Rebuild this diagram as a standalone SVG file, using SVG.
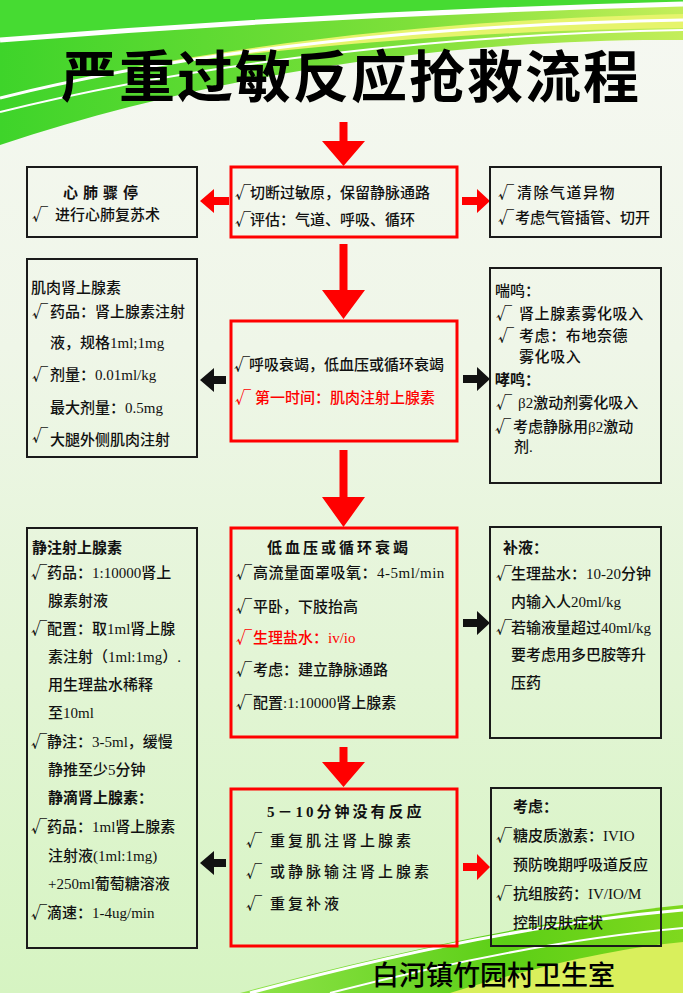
<svg xmlns="http://www.w3.org/2000/svg" width="683" height="993" viewBox="0 0 683 993">
<defs>
<linearGradient id="bg" x1="0" y1="0" x2="0" y2="1">
<stop offset="0" stop-color="#f6f8f2"/>
<stop offset="0.35" stop-color="#eff6e8"/>
<stop offset="1" stop-color="#d6f4c2"/>
</linearGradient>
<linearGradient id="topg" x1="0" y1="0" x2="1" y2="0">
<stop offset="0" stop-color="#3ed42a"/>
<stop offset="0.6" stop-color="#7ee03a"/>
<stop offset="1" stop-color="#c4ee5a"/>
</linearGradient>
<linearGradient id="botg" x1="0" y1="0" x2="1" y2="0">
<stop offset="0" stop-color="#8fe34a"/>
<stop offset="0.6" stop-color="#5ccf16"/>
<stop offset="1" stop-color="#7fd81e"/>
</linearGradient>
</defs>
<style>
.t{font-family:"Liberation Serif","Noto Sans CJK SC",serif;font-size:15px;fill:#111;font-weight:500}
.ck{font-family:"Noto Sans CJK SC","DejaVu Sans",sans-serif;font-size:16px}
.r{fill:#f00}
.b{font-weight:bold}
.bx{fill:none;stroke:#1a1a1a;stroke-width:2}
.rb{fill:none;stroke:#f00;stroke-width:3}
.ra{fill:#f00}
.ka{fill:#111}
.ttl{font-family:"Noto Sans CJK SC","Liberation Sans",sans-serif;font-weight:bold;fill:#000}
.foot{font-family:"Noto Sans CJK SC","Liberation Sans",sans-serif;font-weight:500;fill:#000;font-size:27px}
</style>
<rect x="0" y="0" width="683" height="993" fill="url(#bg)"/>
<g id="banner-top">
<path d="M0,0 H683 V40 C500,38 250,62 0,145 Z" fill="url(#topg)"/>
<path d="M0,0 H683 V6 C450,10 200,22 0,38 Z" fill="#46db32"/>
<path d="M0,40 C200,24 450,10 683,4" fill="none" stroke="#ffffff" stroke-width="5"/>
<path d="M120,70 C330,30 520,18 683,14 V28 C520,30 340,40 120,70 Z" fill="#e6f46c"/>
<path d="M0,98 C200,48 450,24 683,20" fill="none" stroke="#ffffff" stroke-width="3"/>
<path d="M0,112 C200,62 450,34 683,30" fill="none" stroke="#ffffff" stroke-width="2"/>
</g>
<g id="banner-bottom">
<path d="M240,993 C380,955 540,920 683,905 V993 Z" fill="url(#botg)"/>
<path d="M450,993 C540,965 620,948 683,942 V993 Z" fill="#d9ef5c"/>
<path d="M250,993 C390,955 545,922 683,910" fill="none" stroke="#ffffff" stroke-width="3"/>
<path d="M330,993 C450,962 570,938 683,928" fill="none" stroke="#ffffff" stroke-width="2"/>
</g>
<text class="ttl" x="351" y="97" font-size="56" letter-spacing="2" text-anchor="middle">严重过敏反应抢救流程</text>

<g id="connectors">
<path class="ra" d="M339.5,122 H347.5 V141 H365 L343.5,166 L322,141 H339.5 Z"/>
<path class="ra" d="M339.5,244 H347.5 V290 H365 L343.5,319 L322,290 H339.5 Z"/>
<path class="ra" d="M339.5,450 H347.5 V497 H365 L343.5,527 L322,497 H339.5 Z"/>
<path class="ra" d="M339.5,747 H347.5 V762 H365 L343.5,787 L322,762 H339.5 Z"/>
<path class="ra" d="M229,197 V205 H214 V213 L200,201 L214,189 V197 Z"/>
<path class="ra" d="M462,197 V205 H477 V213 L490,201 L477,189 V197 Z"/>
<path class="ka" d="M226,376 V384 H214 V392 L200,380 L214,368 V376 Z"/>
<path class="ka" d="M463,375 V383 H477 V391 L490,379 L477,367 V375 Z"/>
<path class="ka" d="M463,619 V627 H477 V635 L490,623 L477,611 V619 Z"/>
<path class="ka" d="M226,859 V867 H214 V875 L200,863 L214,851 V859 Z"/>
<path class="ra" d="M463,863 V871 H477 V880 L490,867 L477,854 V863 Z"/>
</g>

<g id="n-cut">
<rect class="rb" x="231" y="167" width="226" height="70"/>
<text class="t" y="198"><tspan class="ck" x="235">√</tspan><tspan x="250">切断过敏原，保留静脉通路</tspan></text>
<text class="t" y="225"><tspan class="ck" x="235">√</tspan><tspan x="250">评估：气道、呼吸、循环</tspan></text>
</g>
<g id="n-arrest">
<rect class="bx" x="27" y="167" width="170" height="70"/>
<text class="t b" x="63" y="198" font-size="18" letter-spacing="5">心肺骤停</text>
<text class="t" y="220"><tspan class="ck" x="32">√</tspan><tspan x="55">进行心肺复苏术</tspan></text>
</g>
<g id="n-airway">
<rect class="bx" x="490" y="167" width="171" height="70"/>
<text class="t" y="198"><tspan class="ck" x="498">√</tspan><tspan x="517" letter-spacing="1.5">清除气道异物</tspan></text>
<text class="t" y="223"><tspan class="ck" x="498">√</tspan><tspan x="515">考虑气管插管、切开</tspan></text>
</g>

<g id="n-resp">
<rect class="rb" x="231" y="321" width="226" height="120"/>
<text class="t" y="370"><tspan class="ck" x="234">√</tspan><tspan x="249">呼吸衰竭，低血压或循环衰竭</tspan></text>
<text class="t r" y="403"><tspan class="ck" x="235">√</tspan><tspan x="255">第一时间：肌肉注射上腺素</tspan></text>
</g>
<g id="n-im">
<rect class="bx" x="27" y="259" width="170" height="198"/>
<text class="t" x="31" y="293">肌肉肾上腺素</text>
<text class="t" y="317"><tspan class="ck" x="32">√</tspan><tspan x="50">药品：肾上腺素注射</tspan></text>
<text class="t" x="50" y="348">液，规格1ml;1mg</text>
<text class="t" y="380"><tspan class="ck" x="32">√</tspan><tspan x="50">剂量：0.01ml/kg</tspan></text>
<text class="t" x="50" y="413">最大剂量：0.5mg</text>
<text class="t" y="445"><tspan class="ck" x="32" dy="-4">√</tspan><tspan x="50" dy="4">大腿外侧肌肉注射</tspan></text>
</g>
<g id="n-wheeze">
<rect class="bx" x="490" y="268" width="171" height="215"/>
<text class="t" x="495" y="296">喘鸣：</text>
<text class="t" y="319"><tspan class="ck" x="496">√</tspan><tspan x="519" letter-spacing="0.6">肾上腺素雾化吸入</tspan></text>
<text class="t" y="341"><tspan class="ck" x="498">√</tspan><tspan x="519" letter-spacing="0.6">考虑：布地奈德</tspan></text>
<text class="t" x="519" y="362" letter-spacing="0.6">雾化吸入</text>
<text class="t b" x="495" y="385">哮鸣：</text>
<text class="t" y="408"><tspan class="ck" x="496">√</tspan><tspan x="518">β2激动剂雾化吸入</tspan></text>
<text class="t" y="432"><tspan class="ck" x="495">√</tspan><tspan x="513">考虑静脉用β2激动</tspan></text>
<text class="t" x="514" y="452">剂.</text>
</g>

<g id="n-hypo">
<rect class="rb" x="231" y="528" width="226" height="209"/>
<text class="t b" x="267" y="553" font-size="14" letter-spacing="3">低血压或循环衰竭</text>
<text class="t" y="578"><tspan class="ck" x="236">√</tspan><tspan x="253" letter-spacing="0.5">高流量面罩吸氧：4-5ml/min</tspan></text>
<text class="t" y="612"><tspan class="ck" x="236">√</tspan><tspan x="253">平卧，下肢抬高</tspan></text>
<text class="t r" y="643"><tspan class="ck" x="236">√</tspan><tspan x="253">生理盐水：iv/io</tspan></text>
<text class="t" y="675"><tspan class="ck" x="236">√</tspan><tspan x="253">考虑：建立静脉通路</tspan></text>
<text class="t" y="708"><tspan class="ck" x="236">√</tspan><tspan x="253">配置:1:10000肾上腺素</tspan></text>
</g>
<g id="n-iv">
<rect class="bx" x="27" y="528" width="170" height="420"/>
<text class="t b" x="32" y="553">静注射上腺素</text>
<text class="t" y="578"><tspan class="ck" x="31">√</tspan><tspan x="47">药品：1:10000肾上</tspan></text>
<text class="t" x="48" y="606">腺素射液</text>
<text class="t" y="634"><tspan class="ck" x="31">√</tspan><tspan x="47">配置：取1ml肾上腺</tspan></text>
<text class="t" x="48" y="662">素注射（1ml:1mg）.</text>
<text class="t" x="48" y="690">用生理盐水稀释</text>
<text class="t" x="48" y="718">至10ml</text>
<text class="t" y="747"><tspan class="ck" x="31">√</tspan><tspan x="47">静注：3-5ml，缓慢</tspan></text>
<text class="t" x="48" y="775">静推至少5分钟</text>
<text class="t b" x="48" y="803">静滴肾上腺素：</text>
<text class="t" y="832"><tspan class="ck" x="31">√</tspan><tspan x="47">药品：1ml肾上腺素</tspan></text>
<text class="t" x="48" y="861">注射液(1ml:1mg)</text>
<text class="t" x="48" y="889">+250ml葡萄糖溶液</text>
<text class="t" y="918"><tspan class="ck" x="31">√</tspan><tspan x="47">滴速：1-4ug/min</tspan></text>
</g>
<g id="n-fluid">
<rect class="bx" x="490" y="527" width="171" height="211"/>
<text class="t b" x="503" y="553">补液：</text>
<text class="t" y="579"><tspan class="ck" x="496">√</tspan><tspan x="511">生理盐水：10-20分钟</tspan></text>
<text class="t" x="511" y="607">内输入人20ml/kg</text>
<text class="t" y="633"><tspan class="ck" x="496">√</tspan><tspan x="511">若输液量超过40ml/kg</tspan></text>
<text class="t" x="511" y="660">要考虑用多巴胺等升</text>
<text class="t" x="511" y="688">压药</text>
</g>

<g id="n-noresp">
<rect class="rb" x="231" y="789" width="226" height="157"/>
<text class="t b" x="267" y="817" font-size="14" letter-spacing="3">5－10分钟没有反应</text>
<text class="t" y="846"><tspan class="ck" x="246">√</tspan><tspan x="270" letter-spacing="3">重复肌注肾上腺素</tspan></text>
<text class="t" y="877"><tspan class="ck" x="246">√</tspan><tspan x="270" letter-spacing="3">或静脉输注肾上腺素</tspan></text>
<text class="t" y="909"><tspan class="ck" x="246">√</tspan><tspan x="270" letter-spacing="3">重复补液</tspan></text>
</g>
<g id="n-consider">
<rect class="bx" x="491" y="788" width="170" height="158"/>
<text class="t b" x="513" y="812">考虑：</text>
<text class="t" y="841"><tspan class="ck" x="496">√</tspan><tspan x="513">糖皮质激素：IVIO</tspan></text>
<text class="t" x="513" y="870">预防晚期呼吸道反应</text>
<text class="t" y="899"><tspan class="ck" x="496">√</tspan><tspan x="513">抗组胺药：IV/IO/M</tspan></text>
<text class="t" x="513" y="928">控制皮肤症状</text>
</g>
<text class="foot" x="372" y="985">白河镇竹园村卫生室</text>
</svg>
